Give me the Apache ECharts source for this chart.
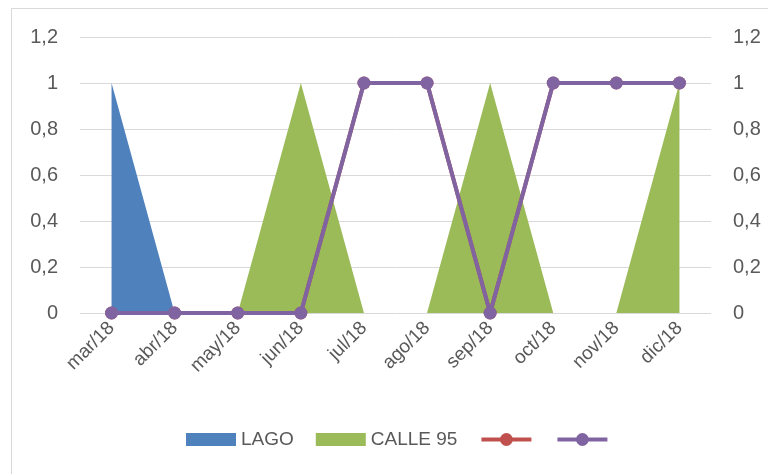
<!DOCTYPE html>
<html>
<head>
<meta charset="utf-8">
<script src="https://cdn.jsdelivr.net/npm/echarts@6/dist/echarts.min.js"></script>
<style>
  html, body { margin: 0; padding: 0; background: #fff; }
  #chart { width: 768px; height: 474px; }
</style>
</head>
<body>
<div id="chart"></div>
<script>
// Monthly categories
const months = ['mar/18', 'abr/18', 'may/18', 'jun/18', 'jul/18', 'ago/18', 'sep/18', 'oct/18', 'nov/18', 'dic/18'];

// Area series
const lagoValues   = [1, 0, 0, 0, 0, 0, 0, 0, 0, 0];
const calleValues  = [0, 0, 0, 1, 0, 0, 1, 0, 0, 1];

// Line series (unnamed in the legend)
const redValues    = [0, 0, 0, 0, 1, 1, 0, 1, 1, 1];
const purpleValues = [0, 0, 0, 0, 1, 1, 0, 1, 1, 1];

// Value axis range
const yMin = 0, yMax = 1.2, yStep = 0.2;

const FONT = '"Liberation Sans Narrow", "Arial Narrow", "Liberation Sans", sans-serif';
const TXT = '#595959';

const fmt = v => String(Math.round(v * 10) / 10).replace('.', ',');

const valueAxis = (pos) => ({
  type: 'value',
  position: pos,
  min: yMin, max: yMax, interval: yStep,
  axisLine: { show: false },
  axisTick: { show: false },
  splitLine: { show: pos === 'left', lineStyle: { color: '#d9d9d9', width: 1 } },
  axisLabel: { color: TXT, fontFamily: FONT, fontSize: 20, margin: 22, formatter: fmt }
});

// Flat swatch used for the area series in the legend
const swatch = 'path://M0,0H50V13H0Z';

const chart = echarts.init(document.getElementById('chart'));
chart.setOption({
  animation: false,
  backgroundColor: '#fff',
  graphic: [{
    type: 'rect',
    shape: { x: 11.5, y: 8.5, width: 800, height: 500 },
    style: { fill: 'none', stroke: '#d9d9d9', lineWidth: 1 },
    z: -1
  }],
  grid: { left: 80, right: 57, top: 37, bottom: 161 },
  legend: {
    top: 425,
    left: 181,
    itemGap: 22,
    itemWidth: 50,
    itemHeight: 16,
    symbolKeepAspect: true,
    textStyle: { color: TXT, fontFamily: FONT, fontSize: 19 },
    formatter: name => name.trim(),
    data: [
      { name: 'LAGO', icon: swatch },
      { name: 'CALLE 95', icon: swatch },
      { name: ' ', lineStyle: { width: 4 } },
      { name: '  ', lineStyle: { width: 4 } }
    ]
  },
  xAxis: {
    type: 'category',
    data: months,
    boundaryGap: true,
    axisLine: { show: false },
    axisTick: { show: false },
    axisLabel: { color: TXT, fontFamily: FONT, fontSize: 19, rotate: 45, margin: 12, interval: 0 }
  },
  yAxis: [valueAxis('left'), valueAxis('right')],
  series: [
    {
      name: 'LAGO', type: 'line', data: lagoValues,
      symbol: 'none', lineStyle: { width: 0 },
      itemStyle: { color: '#4F81BD' },
      areaStyle: { color: '#4F81BD', opacity: 1 }, z: 1
    },
    {
      name: 'CALLE 95', type: 'line', data: calleValues,
      symbol: 'none', lineStyle: { width: 0 },
      itemStyle: { color: '#9BBB59' },
      areaStyle: { color: '#9BBB59', opacity: 1 }, z: 2
    },
    {
      name: ' ', type: 'line', yAxisIndex: 1, data: redValues,
      symbol: 'circle', symbolSize: 13,
      lineStyle: { width: 4, color: '#C0504D' },
      itemStyle: { color: '#C0504D' }, z: 3
    },
    {
      name: '  ', type: 'line', yAxisIndex: 1, data: purpleValues,
      symbol: 'circle', symbolSize: 13,
      lineStyle: { width: 4, color: '#8064A2' },
      itemStyle: { color: '#8064A2' }, z: 4
    }
  ]
});
</script>
</body>
</html>
